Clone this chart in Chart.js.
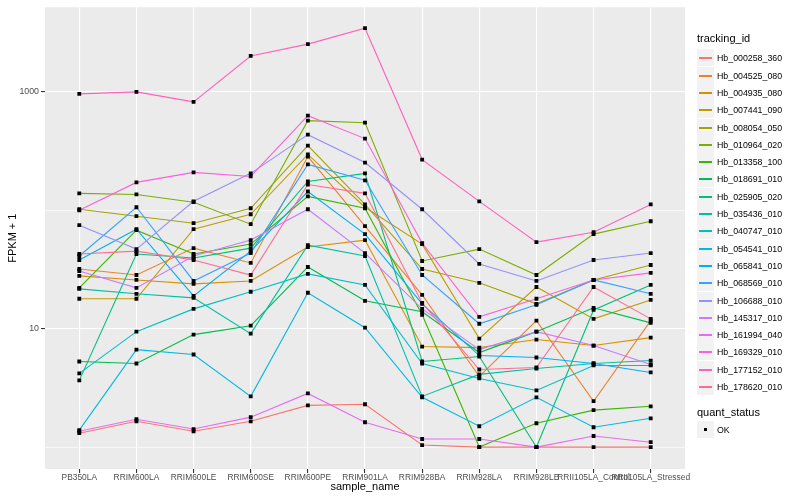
<!DOCTYPE html>
<html>
<head>
<meta charset="utf-8">
<script src="https://cdn.jsdelivr.net/npm/chart.js@4.4.1/dist/chart.umd.min.js"></script>
<style>
  body { margin: 0; background: #fff; font-family: "Liberation Sans", Arial, sans-serif; }
  #wrap { position: relative; width: 800px; height: 500px; }
  #legend { position: absolute; left: 0; top: 0; }
  .ltitle { position: absolute; left: 697px; font-size: 11px; color: #000; line-height: 14px; }
  .lkey { position: absolute; left: 697px; width: 17px; height: 17px; background: #F2F2F2; }
  .lkey i { position: absolute; left: 2px; top: 8px; width: 13px; height: 1.5px; }
  .lkey b { position: absolute; left: 7px; top: 7px; width: 3px; height: 3px; background: #000; }
  .llab { position: absolute; left: 717px; font-size: 8.8px; color: #000; line-height: 12px; }
</style>
</head>
<body>
<div id="wrap">
  <canvas id="chart" width="800" height="500"></canvas>
  <div id="legend"></div>
</div>
<script>
const samples = ['PB350LA', 'RRIM600LA', 'RRIM600LE', 'RRIM600SE', 'RRIM600PE', 'RRIM901LA',
  'RRIM928BA', 'RRIM928LA', 'RRIM928LB', 'RRII105LA_Control', 'RRII105LA_Stressed'];

const trackingIds = ['Hb_000258_360', 'Hb_004525_080', 'Hb_004935_080', 'Hb_007441_090', 'Hb_008054_050',
  'Hb_010964_020', 'Hb_013358_100', 'Hb_018691_010', 'Hb_025905_020', 'Hb_035436_010',
  'Hb_040747_010', 'Hb_054541_010', 'Hb_065841_010', 'Hb_068569_010', 'Hb_106688_010',
  'Hb_145317_010', 'Hb_161994_040', 'Hb_169329_010', 'Hb_177152_010', 'Hb_178620_010'];

// FPKM + 1 per sample
const hb000258 = [1.31, 1.65, 1.36, 1.65, 2.25, 2.3, 1.04, 1, 1, 1, 1];
const hb004525 = [31.9, 28.4, 47.9, 35.9, 284, 73.4, 19.3, 3.95, 11.7, 2.44, 11.7];
const hb004935 = [27.9, 25.8, 23.9, 25.3, 48.9, 56, 7.06, 6.92, 8.09, 7.2, 8.4];
const hb007441 = [17.9, 17.9, 69.2, 92.5, 296, 106, 51.8, 8.24, 22.5, 12.1, 17.5];
const hb008054 = [102, 89.1, 77.8, 104, 352, 112, 31.9, 24.4, 16.2, 25.8, 34.5];
const hb010964 = [139, 136, 117, 76.3, 571, 549, 37.3, 47, 28.4, 62.9, 80.8];
const hb013358 = [22.1, 67.9, 42.7, 51.8, 131, 104, 13.1, 1, 1.59, 2.05, 2.21];
const hb018691 = [5.28, 5.08, 8.91, 10.6, 33.2, 17.2, 13.9, 6.29, 9.44, 15.0, 11.2];
const hb025905 = [3.66, 42.7, 39.5, 47.9, 175, 205, 5.28, 5.82, 1, 14.4, 23.4];
const hb035436 = [21.7, 19.7, 18.2, 9.08, 50.8, 41.1, 2.68, 4.11, 4.61, 5.08, 5.38];
const hb040747 = [4.19, 9.44, 14.7, 20.5, 29.0, 23.4, 5.08, 3.8, 3.01, 4.89, 4.89];
const hb054541 = [1.39, 6.66, 6.05, 2.68, 20.1, 10.2, 2.63, 1.5, 2.63, 1.47, 1.75];
const hb065841 = [38, 69.2, 18.9, 45.2, 144, 62.9, 16.2, 5.93, 5.71, 5.08, 4.27];
const hb068569 = [41.1, 106, 25.3, 43.5, 244, 179, 28.4, 11, 15.9, 25.8, 19.7];
const hb106688 = [74.8, 47, 119, 205, 435, 253, 102, 35.2, 25.3, 38, 43.5];
const hb145317 = [30.7, 22.1, 41.1, 56, 102, 43.5, 14.7, 6.66, 9.44, 7.2, 4.98];
const hb161994 = [1.36, 1.72, 1.42, 1.79, 2.84, 1.62, 1.17, 1.17, 1, 1.24, 1.1];
const hb169329 = [100, 172, 209, 193, 629, 403, 52.8, 12.6, 17.9, 25.8, 29.6];
const hb177152 = [962, 1000, 824, 2010, 2530, 3450, 268, 119, 53.8, 65.3, 112];
const hb178620 = [42.7, 45.2, 38, 28.4, 165, 139, 16.5, 4.52, 4.7, 22.5, 12.1];

const series = [hb000258, hb004525, hb004935, hb007441, hb008054, hb010964, hb013358, hb018691,
  hb025905, hb035436, hb040747, hb054541, hb065841, hb068569, hb106688, hb145317,
  hb161994, hb169329, hb177152, hb178620];

const colors = ['#F8766D', '#EA8331', '#D89000', '#C09B00', '#A3A500', '#7CAE00', '#39B600', '#00BB4E',
  '#00BF7D', '#00C1A3', '#00BFC4', '#00BAE0', '#00B0F6', '#35A2FF', '#9590FF', '#C77CFF',
  '#E76BF3', '#FA62DB', '#FF62BC', '#FF6C91'];

const yTicks = [1, 10, 100, 1000];
const yLabels = [10, 1000];

// grey panel like ggplot
const panelBg = {
  id: 'panelBg',
  beforeDraw(chart) {
    const {ctx, chartArea: a} = chart;
    ctx.save();
    ctx.fillStyle = '#EBEBEB';
    ctx.fillRect(a.left, a.top, a.right - a.left, a.bottom - a.top);
    ctx.restore();
  }
};

const datasets = series.map((vals, i) => ({
  label: trackingIds[i],
  data: vals.map((v, j) => ({x: j, y: v})),
  borderColor: colors[i],
  borderWidth: 1.1,
  pointRadius: 0,
  fill: false,
  tension: 0,
  order: 20 - i
}));

// points on top of all lines
datasets.push({
  label: 'OK',
  type: 'scatter',
  data: series.flatMap(vals => vals.map((v, j) => ({x: j, y: v}))),
  showLine: false,
  pointStyle: 'rect',
  pointRadius: 2.7,
  backgroundColor: '#000',
  borderWidth: 0,
  order: -1
});

new Chart(document.getElementById('chart'), {
  type: 'line',
  data: { datasets: datasets },
  plugins: [panelBg],
  options: {
    responsive: false,
    animation: false,
    devicePixelRatio: 1,
    layout: { padding: { left: 0, right: 115, top: 5, bottom: 0 } },
    plugins: { legend: { display: false }, tooltip: { enabled: false } },
    scales: {
      x: {
        type: 'linear',
        min: -0.6,
        max: 10.6,
        afterBuildTicks: s => { s.ticks = samples.map((_, i) => ({value: i})); },
        afterFit: s => { s.height = 31; },
        ticks: {
          autoSkip: false, maxRotation: 0, padding: 0,
          color: '#4D4D4D',
          font: { family: '"Liberation Sans", Arial, sans-serif', size: 8.4 },
          callback: v => samples[v]
        },
        grid: { color: '#FFFFFF', lineWidth: 1.1, tickLength: 4, tickColor: '#333333' },
        border: { display: false },
        title: {
          display: true, text: 'sample_name', color: '#000',
          font: { family: '"Liberation Sans", Arial, sans-serif', size: 11 },
          padding: { top: 0, bottom: 6 }
        }
      },
      y: {
        type: 'logarithmic',
        min: 0.653,
        max: 5180,
        afterBuildTicks: s => { s.ticks = yTicks.map(v => ({value: v})); },
        afterFit: s => { s.width = 45; },
        ticks: {
          padding: 2,
          color: '#4D4D4D',
          font: { family: '"Liberation Sans", Arial, sans-serif', size: 8.8 },
          callback: v => yLabels.includes(v) ? String(v) : ''
        },
        grid: {
          color: '#FFFFFF',
          lineWidth: c => yLabels.includes(c.tick.value) ? 1.1 : 0.6,
          tickLength: 4,
          tickColor: c => yLabels.includes(c.tick.value) ? '#333333' : 'rgba(0,0,0,0)'
        },
        border: { display: false },
        title: {
          display: true, text: 'FPKM + 1', color: '#000',
          font: { family: '"Liberation Sans", Arial, sans-serif', size: 11 },
          padding: { top: 6, bottom: 0 }
        }
      }
    }
  }
});

// ggplot-style legend
const legend = document.getElementById('legend');
let html = '<div class="ltitle" style="top:31px">tracking_id</div>';
trackingIds.forEach((id, i) => {
  const top = Math.round(49.3 + i * 17.3);
  html += `<div class="lkey" style="top:${top}px"><i style="background:${colors[i]}"></i></div>`;
  html += `<div class="llab" style="top:${top + 2.5}px">${id}</div>`;
});
html += '<div class="ltitle" style="top:405px">quant_status</div>';
html += '<div class="lkey" style="top:421px"><b></b></div>';
html += '<div class="llab" style="top:423.5px">OK</div>';
legend.innerHTML = html;
</script>
</body>
</html>
